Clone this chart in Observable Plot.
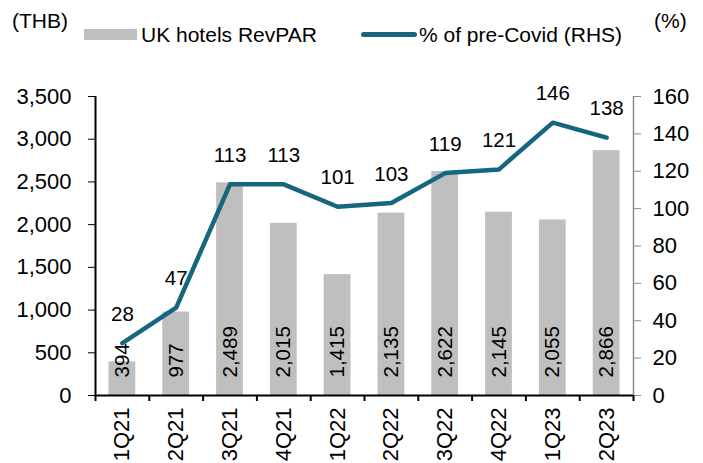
<!DOCTYPE html>
<html>
<head>
<meta charset="utf-8">
<script src="https://cdn.jsdelivr.net/npm/d3@7"></script>
<script src="https://cdn.jsdelivr.net/npm/@observablehq/plot@0.6"></script>
<style>
  html, body { margin: 0; padding: 0; background: #fff; }
  #wrap { position: relative; width: 703px; height: 463px; font-family: "Liberation Sans", Arial, sans-serif; color: #000; }
  .lab { position: absolute; font-size: 21px; line-height: 1; white-space: nowrap; }
  .sw { position: absolute; }
</style>
</head>
<body>
<div id="wrap">
  <div id="chart"></div>
  <div class="lab" style="left:12px; top:10px;">(THB)</div>
  <div class="sw" style="left:84px; top:29px; width:53px; height:11px; background:#bfbfbf;"></div>
  <div class="lab" style="left:141px; top:24px;">UK hotels RevPAR</div>
  <div class="sw" style="left:361px; top:32px; width:56px; height:5px; background:#17667f; border-radius:3px;"></div>
  <div class="lab" style="left:419px; top:24px;">% of pre-Covid (RHS)</div>
  <div class="lab" style="left:654px; top:10px;">(%)</div>
</div>
<script>
const categories = ["1Q21","2Q21","3Q21","4Q21","1Q22","2Q22","3Q22","4Q22","1Q23","2Q23"];
const revpar = [394, 977, 2489, 2015, 1415, 2135, 2622, 2145, 2055, 2866];
const pctPreCovid = [28, 47, 113, 113, 101, 103, 119, 121, 146, 138];
const leftTicks = [0, 500, 1000, 1500, 2000, 2500, 3000, 3500];
const rightTicks = [0, 20, 40, 60, 80, 100, 120, 140, 160];

const yMax = 3500, rMax = 160;
const toLeft = v => v * yMax / rMax;
const data = categories.map((c, i) => ({cat: c, i, rev: revpar[i], pct: pctPreCovid[i]}));
const fs = 22, fsData = 20.5;
const fmt = d3.format(",");

const chart = Plot.plot({
  width: 703,
  height: 463,
  marginLeft: 95,
  marginRight: 70,
  marginTop: 96,
  marginBottom: 68,
  style: {fontFamily: "Liberation Sans, Arial, sans-serif", fontSize: fs + "px", background: "transparent", color: "#000"},
  x: {domain: [0, categories.length], axis: null},
  y: {domain: [0, yMax], axis: null},
  marks: [
    Plot.rectY(data, {x1: d => d.i, x2: d => d.i + 1, y: "rev", insetLeft: 13.5, insetRight: 13.5, fill: "#bfbfbf"}),
    Plot.text(data, {x: d => d.i + 0.5, y: 0, text: d => fmt(d.rev), rotate: -90, textAnchor: "start", dy: -18, fontSize: fsData, fill: "#000"}),
    Plot.line(data, {x: d => d.i + 0.5, y: d => toLeft(d.pct), stroke: "#17667f", strokeWidth: 4.5, strokeLinejoin: "round", strokeLinecap: "round"}),
    Plot.text(data, {x: d => d.i + 0.5, y: d => toLeft(d.pct), text: d => String(d.pct), dy: -29, fontSize: fsData, fill: "#000"}),
    Plot.axisY({anchor: "left", ticks: leftTicks, tickFormat: fmt, tickSize: 7, tickPadding: 17, label: null, fontSize: fs}),
    Plot.axisY({anchor: "right", ticks: rightTicks.map(toLeft), tickFormat: d => String(Math.round(d * rMax / yMax)), tickSize: 7, tickPadding: 12, stroke: "#8c8c8c", fill: "#000", label: null, fontSize: fs}),
    Plot.ruleX([categories.length], {stroke: "#8c8c8c", strokeWidth: 1.5}),
    Plot.ruleX([0], {stroke: "#000", strokeWidth: 2}),
    Plot.axisX({ticks: d3.range(0, categories.length + 1), tickFormat: () => "", tickSize: 6, strokeWidth: 2, label: null}),
    Plot.axisX({ticks: d3.range(0.5, categories.length, 1), tickFormat: d => categories[Math.floor(d)], tickSize: 0, tickPadding: 12, tickRotate: -90, label: null, fontSize: fs}),
    Plot.ruleY([0], {stroke: "#000", strokeWidth: 2})
  ]
});
document.getElementById("chart").appendChild(chart);
</script>
</body>
</html>
